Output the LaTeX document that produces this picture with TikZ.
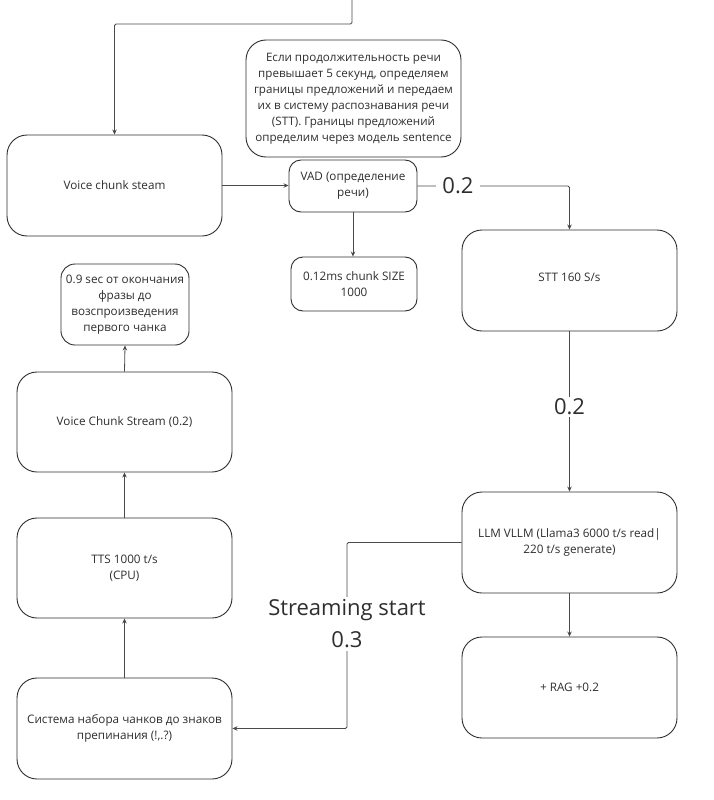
\documentclass[tikz,border=0pt]{standalone}
\usepackage{fontspec}
\setmainfont{Open Sans}
\usetikzlibrary{arrows.meta,calc}
\definecolor{ink}{HTML}{2E2E2E}
\definecolor{wire}{HTML}{4A4A4A}
\begin{document}
\begin{tikzpicture}[x=1pt,y=-1pt,
  box/.style={draw=ink,line width=0.9pt,rectangle,rounded corners=#1,inner sep=0pt,align=center,text=ink,font=\fontsize{11.7}{16}\selectfont},
  box/.default=20pt,
  arr/.style={draw=wire,line width=0.8pt,-{Stealth[length=5pt,width=4.5pt]}},
  wire/.style={draw=wire,line width=0.8pt},
  biglbl/.style={fill=white,text=ink,align=center,font=\fontsize{22}{32}\selectfont}]
\useasboundingbox[fill=white] (0,0) rectangle (713,800);

% nodes
\node[box,minimum width=215pt,minimum height=101pt] (voice) at (114.5,185.5) {Voice chunk steam};
\node[box,minimum width=215pt,minimum height=117pt,font=\fontsize{11.6}{16}\selectfont] (note) at (353.5,98.5)
  {Если продолжительность речи\\превышает 5 секунд, определяем\\границы предложений и передаем\\их в систему распознавания речи\\(STT). Границы предложений\\определим через модель sentence};
\node[box=12pt,minimum width=128pt,minimum height=52pt] (vad) at (353,186) {VAD (определение\\речи)};
\node[box=12pt,minimum width=126pt,minimum height=54pt] (chunk) at (354,284) {0.12ms chunk SIZE\\1000};
\node[box,minimum width=215pt,minimum height=101pt] (stt) at (569.5,280.5) {\raisebox{7pt}{STT 160 S/s}};
\node[box,minimum width=215pt,minimum height=101pt] (llm) at (569.5,542.5) {LLM VLLM (Llama3 6000 t/s read|\\220 t/s generate)};
\node[box,minimum width=215pt,minimum height=101pt] (rag) at (569.5,687.5) {+ RAG +0.2};
\node[box,minimum width=215pt,minimum height=101pt] (sys) at (124.5,728.5) {Система набора чанков до знаков\\препинания (!,.?)};
\node[box,minimum width=215pt,minimum height=100pt] (tts) at (124.5,568) {TTS 1000 t/s\\(CPU)};
\node[box,minimum width=215pt,minimum height=100pt] (vcs) at (124.5,422) {Voice Chunk Stream (0.2)};
\node[box=14pt,minimum width=128pt,minimum height=81pt] (lat) at (125,304.5) {0.9 sec от окончания\\фразы до\\возспроизведения\\первого чанка};

% connectors
\coordinate (topc) at (352,-2);
\coordinate (topbend) at (352,24);
\draw[arr,rounded corners=1.5pt] (topc) -- (topbend) -| (voice.north);
\draw[arr] (voice.east) -- (vad.west |- voice.east);
\draw[arr,rounded corners=1.5pt] (vad.east) -| (stt.north);
\node[biglbl,inner xsep=6pt,inner ysep=1pt] (l1) at (458,186) {0.2};
\draw[arr] (vad.south) -- (vad.south |- chunk.north);
\draw[arr] (stt.south) -- (llm.north);
\node[biglbl,inner xsep=2pt,inner ysep=2pt] (l2) at (569.5,407) {0.2};
\draw[arr] (llm.south) -- (rag.north);
\coordinate (sbend) at (347,542.5);
\draw[arr,rounded corners=1.5pt] (llm.west) -- (sbend) |- (sys.east);
\node[biglbl,inner xsep=2pt,inner ysep=3pt] (l3) at (347,624) {Streaming start\\0.3};
\draw[arr] (sys.north) -- (tts.south);
\draw[arr] (tts.north) -- (vcs.south);
\draw[arr] (vcs.north) -- (lat.south);
\end{tikzpicture}
\end{document}
